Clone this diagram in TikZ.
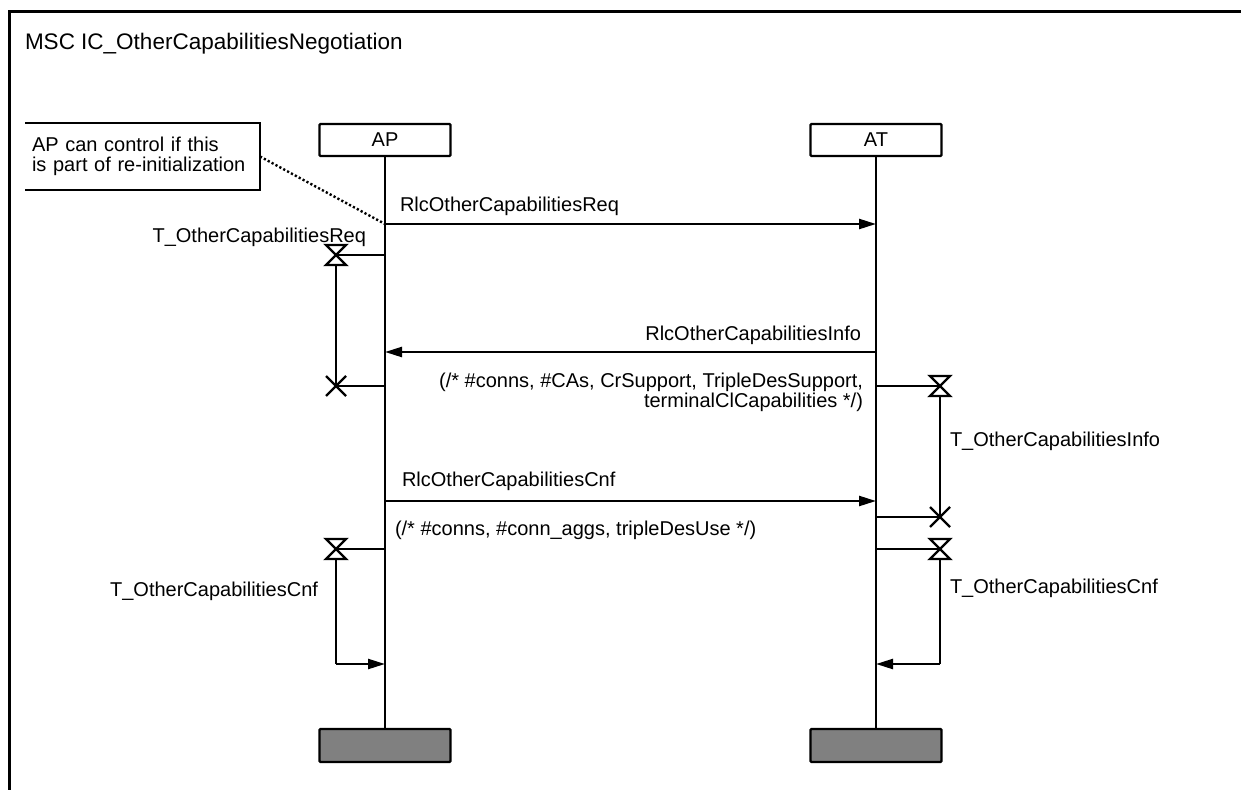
\documentclass[tikz,border=0pt]{standalone}
\usepackage{fontspec}
\setmainfont{Liberation Sans}
\usetikzlibrary{arrows.meta}
\begin{document}
\begin{tikzpicture}[x=1pt,y=-1pt,
  every node/.style={inner sep=0pt,outer sep=0pt,font=\fontsize{20}{19.5}\selectfont},
  ln/.style={line width=2.4pt},
  msg/.style={line width=2.4pt,-{Triangle[length=17pt,width=10pt]}},
  inst/.style={draw,line width=2.4pt,minimum width=131pt,minimum height=32pt,rounded corners=1pt},
  endbox/.style={draw,line width=2.4pt,fill=gray,minimum width=131pt,minimum height=33pt,rounded corners=1pt},
  hourglass/.pic={\draw[line width=2.4pt,line join=miter] (-10,-10) -- (10,-10) -- (-10,10) -- (10,10) -- cycle;},
  xstop/.pic={\draw[line width=2.4pt] (-10,-10) -- (10,10) (-10,10) -- (10,-10);}
]
\useasboundingbox (0,0) rectangle (1241,789);
% frame
\draw[line width=3pt] (9.5,800) -- (9.5,11.5) -- (1260,11.5);
\node[anchor=base west,font=\fontsize{22.5}{26}\selectfont] (title) at (25,50) {MSC IC\_OtherCapabilitiesNegotiation};

% note
\node[anchor=north west,minimum width=235pt,minimum height=67pt,text width=221pt,align=left,inner xsep=7pt] (note) at (25,123)
  {AP can control if this\\is part of re-initialization};
\draw[ln] (note.north west) -- (note.north east) -- (note.south east) -- (note.south west);

% instances
\node[inst] (ap) at (385,140) {AP};
\node[inst] (at) at (876,140) {AT};
\node[endbox] (apend) at (385,745.5) {};
\node[endbox] (atend) at (876,745.5) {};
\draw[ln] (ap.south) -- (apend.north);
\draw[ln] (at.south) -- (atend.north);

% message coordinates
\coordinate (m1s) at (385,224); \coordinate (m1e) at (876,224);
\coordinate (m2s) at (876,352); \coordinate (m2e) at (385,352);
\coordinate (m3s) at (385,501); \coordinate (m3e) at (876,501);

\draw[msg] (m1s) -- (m1e);
\node[anchor=base west] (l1) at (400,211) {RlcOtherCapabilitiesReq};
\draw[ln,dash pattern=on 2.2pt off 2.2pt] (note.east) -- (m1s);

\draw[msg] (m2s) -- (m2e);
\node[anchor=base east] (l2) at (861,340) {RlcOtherCapabilitiesInfo};
\node[anchor=north east,align=right] (p2) at (863,373.5) {(/* \#conns, \#CAs, CrSupport, TripleDesSupport,\\terminalClCapabilities */)};

\draw[msg] (m3s) -- (m3e);
\node[anchor=base west] (l3) at (402,486) {RlcOtherCapabilitiesCnf};
\node[anchor=base west] (p3) at (395,535) {(/* \#conns, \#conn\_aggs, tripleDesUse */)};

% timer T_OtherCapabilitiesReq (AP)
\coordinate (t1a) at (385,255); \coordinate (t1h) at (336,255);
\coordinate (t1b) at (336,265); \coordinate (t1x) at (336,386); \coordinate (t1l) at (385,386);
\draw[ln] (t1a) -- (t1h);
\pic at (t1h) {hourglass};
\draw[ln] (t1b) -- (t1x);
\pic at (t1x) {xstop};
\draw[ln] (t1x) -- (t1l);
\node[anchor=base east] (tl1) at (366,242) {T\_OtherCapabilitiesReq};

% timer T_OtherCapabilitiesInfo (AT)
\coordinate (t2a) at (876,386); \coordinate (t2h) at (940,386);
\coordinate (t2b) at (940,396); \coordinate (t2x) at (940,517); \coordinate (t2l) at (876,517);
\draw[ln] (t2a) -- (t2h);
\pic at (t2h) {hourglass};
\draw[ln] (t2b) -- (t2x);
\pic at (t2x) {xstop};
\draw[ln] (t2x) -- (t2l);
\node[anchor=base west] (tl2) at (950,446) {T\_OtherCapabilitiesInfo};

% timer T_OtherCapabilitiesCnf (AP)
\coordinate (t3a) at (385,549); \coordinate (t3h) at (336,549);
\coordinate (t3b) at (336,559); \coordinate (t3c) at (336,664); \coordinate (t3l) at (385,664);
\draw[ln] (t3a) -- (t3h);
\pic at (t3h) {hourglass};
\draw[ln] (t3b) -- (t3c);
\draw[msg] (t3c) -- (t3l);
\node[anchor=base east] (tl3) at (318,596) {T\_OtherCapabilitiesCnf};

% timer T_OtherCapabilitiesCnf (AT)
\coordinate (t4a) at (876,549); \coordinate (t4h) at (940,549);
\coordinate (t4b) at (940,559); \coordinate (t4c) at (940,664); \coordinate (t4l) at (876,664);
\draw[ln] (t4a) -- (t4h);
\pic at (t4h) {hourglass};
\draw[ln] (t4b) -- (t4c);
\draw[msg] (t4c) -- (t4l);
\node[anchor=base west] (tl4) at (950,593) {T\_OtherCapabilitiesCnf};
\end{tikzpicture}
\end{document}
